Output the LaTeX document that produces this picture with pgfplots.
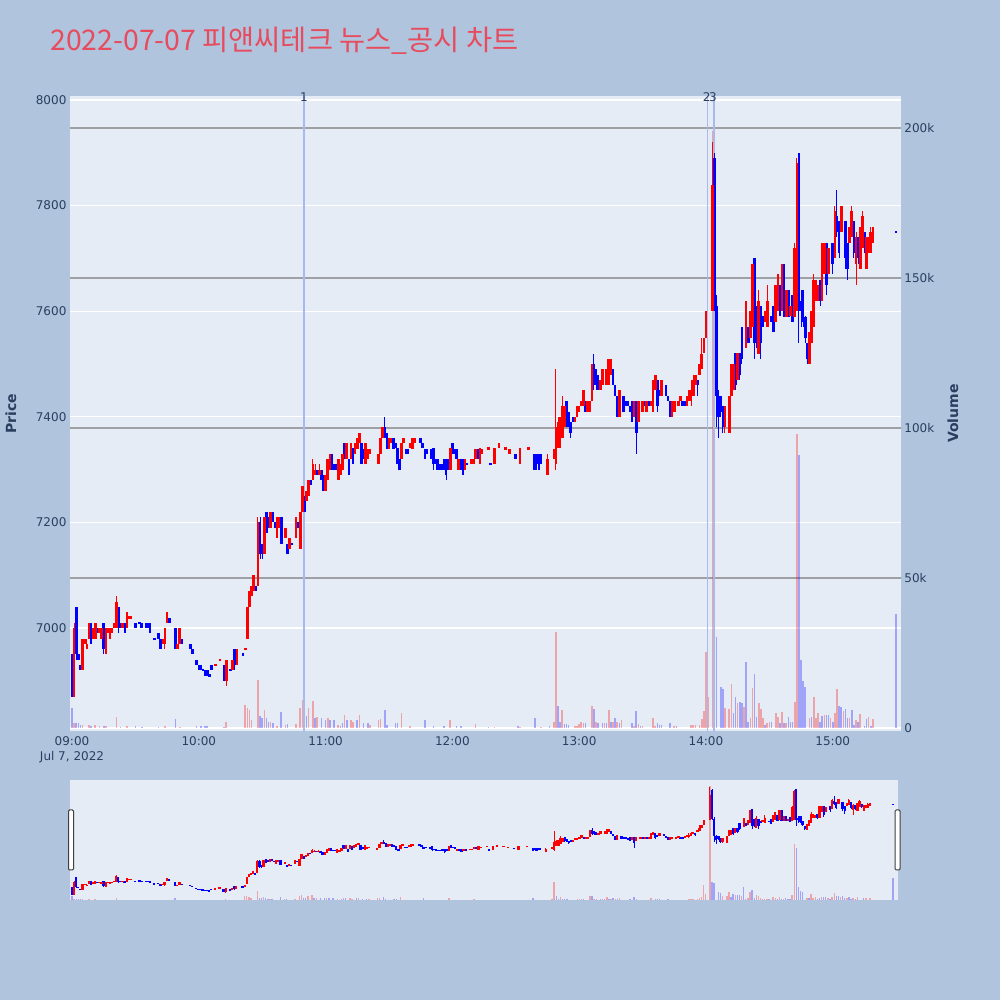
\documentclass[border=0pt]{standalone}
\usepackage{fontspec}
\setmainfont{DejaVu Sans}
\newfontfamily\cjk{Noto Sans CJK KR}
\usepackage{pgfplots}
\usepackage{pgfplotstable}
\pgfplotsset{compat=1.18}
\definecolor{pagebg}{HTML}{B0C4DE}
\definecolor{plotbg}{HTML}{E5ECF6}
\definecolor{tickc}{HTML}{2A3F5F}
\definecolor{titlec}{RGB}{231,76,94}
\definecolor{vgrid}{RGB}{158,160,164}
\definecolor{annc}{RGB}{168,186,236}

\pgfplotstableread{
t o h l c
1 6870 7010 6870 7000
5 6920 6980 6920 6980
6 6970 6980 6970 6980
7 6960 6980 6960 6970
8 6980 7010 6980 7010
10 6980 7000 6980 7000
11 6980 7010 6980 7010
13 6990 7000 6990 7000
14 6980 7000 6980 7000
16 6950 7000 6950 7000
17 6990 7000 6990 7000
18 6980 7000 6980 7000
19 6990 7000 6990 7000
20 7000 7010 7000 7010
21 7000 7060 7000 7050
24 7000 7010 7000 7010
26 7000 7030 7000 7030
27 7020 7020 7020 7020
28 7020 7020 7020 7020
43 6970 6980 6970 6980
44 6970 7000 6960 7000
45 7010 7030 7010 7030
50 6960 6970 6960 6970
51 6970 7000 6970 7000
68 6930 6930 6930 6930
70 6940 6940 6940 6940
73 6900 6940 6890 6940
76 6920 6940 6920 6940
78 6930 6960 6930 6960
82 6960 6960 6960 6960
83 6980 7040 6980 7040
84 7040 7070 7040 7070
85 7060 7080 7060 7080
86 7070 7100 7070 7100
88 7080 7210 7080 7200
91 7140 7210 7140 7210
94 7190 7220 7190 7220
97 7170 7210 7170 7210
98 7190 7210 7190 7210
101 7170 7190 7170 7190
103 7150 7170 7150 7170
106 7170 7210 7170 7210
108 7150 7220 7150 7220
109 7220 7270 7220 7270
111 7240 7260 7240 7260
112 7250 7280 7250 7280
114 7280 7320 7280 7310
115 7290 7310 7290 7300
117 7290 7310 7290 7300
120 7260 7290 7260 7290
121 7280 7320 7280 7320
122 7300 7330 7300 7330
126 7280 7320 7280 7320
127 7290 7310 7290 7310
128 7300 7330 7300 7330
130 7320 7350 7320 7350
132 7320 7350 7320 7350
134 7330 7350 7330 7350
135 7340 7360 7340 7360
136 7350 7370 7350 7370
139 7310 7350 7310 7350
140 7320 7340 7320 7340
141 7330 7340 7330 7340
145 7310 7330 7310 7330
146 7330 7360 7330 7360
147 7360 7380 7360 7380
150 7340 7360 7340 7360
151 7350 7360 7350 7360
156 7320 7350 7320 7350
157 7350 7360 7350 7360
160 7340 7350 7340 7350
161 7340 7360 7340 7360
162 7350 7360 7350 7360
179 7300 7340 7300 7340
183 7300 7320 7300 7320
186 7300 7320 7300 7320
189 7310 7320 7310 7320
190 7310 7320 7310 7320
191 7320 7340 7320 7340
193 7310 7340 7310 7340
194 7330 7340 7330 7340
197 7340 7340 7340 7340
200 7310 7340 7310 7340
202 7340 7350 7340 7350
205 7340 7340 7340 7340
207 7330 7340 7330 7340
212 7310 7340 7310 7340
216 7340 7340 7340 7340
225 7290 7330 7290 7320
228 7320 7340 7320 7340
229 7310 7490 7300 7380
230 7340 7400 7340 7390
231 7340 7400 7340 7400
232 7360 7440 7360 7420
233 7380 7420 7380 7420
238 7390 7400 7390 7400
239 7400 7420 7400 7420
240 7410 7420 7410 7420
241 7420 7430 7420 7430
242 7420 7450 7420 7450
244 7410 7430 7410 7430
245 7410 7430 7410 7430
246 7430 7500 7430 7500
250 7450 7470 7450 7470
251 7460 7490 7460 7490
253 7460 7490 7460 7490
254 7460 7510 7460 7510
255 7480 7510 7480 7510
259 7400 7450 7400 7450
266 7400 7430 7400 7430
268 7390 7430 7390 7430
270 7410 7430 7410 7430
272 7410 7430 7410 7430
274 7420 7430 7420 7430
275 7410 7470 7410 7470
276 7450 7480 7450 7480
279 7440 7470 7440 7470
284 7400 7430 7400 7430
285 7410 7430 7410 7430
287 7420 7430 7420 7430
288 7430 7440 7430 7440
291 7420 7440 7420 7440
292 7430 7450 7430 7450
293 7430 7470 7420 7450
294 7440 7480 7440 7470
295 7460 7480 7460 7480
297 7480 7500 7480 7500
298 7490 7550 7490 7520
299 7520 7550 7520 7550
300 7550 7600 7550 7600
303 7600 7920 7600 7840
309 7380 7420 7370 7420
311 7370 7440 7370 7440
312 7440 7500 7440 7500
313 7450 7500 7450 7500
315 7470 7520 7470 7520
319 7530 7620 7530 7620
321 7550 7600 7550 7600
322 7570 7690 7570 7690
325 7520 7640 7520 7620
328 7580 7600 7580 7600
329 7570 7650 7570 7620
333 7580 7650 7580 7650
334 7600 7670 7600 7670
336 7600 7690 7600 7690
338 7590 7640 7590 7640
340 7590 7610 7590 7610
342 7590 7730 7590 7720
343 7600 7890 7600 7880
349 7500 7560 7500 7560
350 7540 7600 7540 7600
351 7570 7670 7570 7660
352 7620 7660 7620 7660
353 7620 7650 7620 7650
355 7620 7730 7620 7730
356 7670 7730 7670 7730
358 7670 7720 7670 7720
361 7700 7800 7700 7790
364 7750 7800 7750 7800
368 7730 7760 7730 7760
369 7740 7800 7740 7790
371 7690 7750 7650 7740
373 7680 7760 7680 7760
374 7720 7790 7720 7780
376 7680 7740 7680 7740
377 7710 7740 7710 7740
378 7710 7760 7710 7750
379 7730 7760 7730 7760
}\candleup

\pgfplotstableread{
t o h l c
0 6950 6950 6870 6870
2 7040 7040 6940 6950
3 6950 6950 6940 6940
4 6930 6930 6920 6920
9 7010 7010 6970 6970
12 7000 7000 6990 6990
15 7010 7010 6950 6960
22 7040 7040 6990 7000
23 7010 7010 7000 7000
25 7010 7010 6990 6990
30 7010 7010 7000 7000
32 7010 7010 7010 7010
33 7010 7010 7000 7000
35 7010 7010 7000 7000
36 7010 7010 7000 7000
37 7010 7010 6990 6990
39 6980 6980 6980 6980
41 6990 6990 6980 6980
42 6980 6980 6960 6960
46 7020 7020 7010 7010
49 7000 7000 6960 6960
52 6980 6980 6970 6970
56 6970 6970 6960 6960
57 6960 6960 6950 6950
59 6940 6940 6930 6930
60 6930 6930 6920 6920
61 6930 6930 6920 6920
62 6920 6920 6920 6920
63 6920 6920 6910 6910
64 6920 6920 6910 6910
65 6910 6910 6910 6910
66 6930 6930 6920 6920
72 6930 6930 6900 6900
75 6920 6920 6920 6920
77 6960 6960 6920 6930
81 6950 6950 6950 6950
87 7080 7080 7070 7070
89 7200 7210 7130 7140
90 7160 7160 7130 7140
92 7220 7220 7180 7180
93 7210 7210 7190 7190
95 7220 7220 7200 7200
96 7200 7200 7190 7190
99 7210 7210 7160 7160
102 7160 7160 7140 7140
104 7160 7160 7160 7160
107 7200 7200 7190 7190
110 7250 7250 7220 7220
113 7280 7280 7270 7270
116 7300 7300 7290 7290
118 7300 7300 7280 7280
119 7290 7290 7260 7260
123 7330 7330 7300 7300
124 7310 7310 7300 7300
125 7310 7310 7300 7300
129 7350 7350 7320 7320
131 7320 7320 7290 7290
133 7340 7340 7310 7310
137 7350 7350 7310 7310
138 7340 7340 7320 7320
148 7380 7400 7360 7360
149 7370 7370 7340 7340
152 7360 7360 7340 7340
153 7350 7350 7340 7340
154 7340 7340 7310 7310
155 7320 7320 7300 7300
158 7340 7340 7330 7330
159 7340 7340 7330 7330
165 7360 7360 7350 7350
166 7350 7350 7340 7340
167 7340 7340 7320 7320
168 7340 7340 7330 7330
170 7340 7340 7320 7320
171 7340 7340 7300 7310
172 7320 7320 7310 7310
173 7320 7320 7300 7300
174 7310 7310 7300 7300
175 7310 7310 7300 7300
176 7320 7320 7300 7300
177 7320 7320 7280 7290
178 7320 7320 7300 7300
180 7350 7350 7330 7330
181 7340 7340 7330 7330
182 7340 7340 7320 7320
184 7320 7320 7300 7300
185 7320 7320 7290 7290
187 7310 7310 7310 7310
192 7340 7340 7320 7320
198 7310 7310 7310 7310
210 7330 7330 7320 7320
219 7330 7330 7300 7300
220 7330 7330 7300 7310
221 7330 7330 7300 7300
222 7330 7330 7310 7310
234 7430 7430 7380 7390
235 7410 7410 7380 7380
236 7390 7390 7360 7370
237 7400 7400 7390 7390
243 7430 7430 7410 7410
247 7500 7520 7450 7460
248 7490 7490 7450 7460
249 7480 7480 7450 7450
256 7490 7490 7460 7460
257 7460 7460 7440 7440
258 7440 7440 7400 7400
261 7440 7440 7410 7410
262 7430 7430 7420 7420
263 7430 7430 7420 7420
264 7420 7420 7410 7410
265 7430 7430 7390 7390
267 7430 7430 7330 7370
271 7430 7430 7420 7420
273 7430 7430 7420 7420
277 7470 7470 7410 7420
278 7450 7450 7440 7440
281 7460 7460 7440 7440
282 7440 7440 7430 7430
283 7430 7430 7400 7400
289 7430 7430 7420 7420
290 7430 7430 7420 7420
296 7470 7470 7440 7460
304 7890 7900 7600 7610
305 7610 7630 7380 7440
306 7440 7450 7360 7400
307 7440 7440 7400 7410
308 7420 7420 7370 7380
314 7520 7520 7450 7460
316 7520 7520 7470 7480
317 7570 7570 7500 7510
320 7570 7570 7540 7540
323 7700 7700 7510 7540
324 7610 7610 7530 7540
326 7610 7610 7510 7540
327 7590 7590 7570 7570
331 7590 7590 7580 7580
332 7610 7610 7560 7560
335 7650 7650 7590 7590
337 7690 7690 7590 7590
339 7640 7640 7590 7590
341 7630 7630 7580 7580
344 7900 7900 7540 7600
345 7620 7640 7570 7600
346 7640 7640 7570 7580
347 7590 7590 7540 7550
348 7540 7540 7500 7510
354 7660 7660 7610 7620
357 7730 7730 7630 7650
360 7730 7730 7670 7690
362 7780 7830 7740 7750
363 7770 7770 7700 7710
366 7770 7770 7680 7700
367 7730 7730 7660 7680
370 7770 7770 7700 7710
372 7740 7740 7690 7700
375 7750 7750 7710 7720
390 7750 7750 7750 7750
}\candledown

\pgfplotstableread{
t v
1 1500
5 1000
8 1000
11 1000
13 800
16 600
21 3500
26 500
44 500
51 400
73 2000
82 7700
83 6500
84 6000
85 2700
88 16000
91 6000
94 2000
97 700
101 1000
106 1300
108 6500
109 9300
112 6500
114 9000
116 3800
121 3200
126 1000
129 4300
132 2700
133 2100
136 4300
141 1000
145 2700
146 2900
156 4900
160 500
179 2700
191 1300
200 400
212 300
222 400
228 2100
229 32000
232 6000
238 700
239 700
240 1200
241 2100
242 1800
246 7300
248 2100
252 1600
254 6000
256 2100
258 2100
260 2700
266 700
268 1300
270 700
275 3200
276 700
285 700
293 1000
294 1000
295 1000
297 1000
298 2900
299 5500
300 25400
301 10400
303 199000
309 6500
311 6200
312 14500
315 8400
318 7000
321 3400
322 13200
325 8400
326 6200
327 3200
329 1800
330 2100
333 5100
334 3800
336 5300
338 1600
342 8800
343 98000
349 3200
351 10400
352 3200
353 5100
356 4400
359 3200
361 4900
362 13000
365 5700
368 3400
371 2700
373 4700
377 3800
379 2900
}\volup

\pgfplotstableread{
t v
0 6500
2 1500
3 1500
4 1000
9 800
15 500
23 300
30 500
33 300
41 400
49 2900
59 700
61 600
63 500
64 800
72 300
89 4000
90 3200
92 3200
93 2000
95 1500
99 5400
102 1300
110 4000
111 4000
115 3200
118 3200
120 2700
122 2700
124 2700
127 700
128 1600
130 2700
135 2700
138 1600
140 1600
148 6000
149 1000
153 1800
154 1600
167 2700
171 500
176 500
182 500
184 700
197 400
211 700
219 3400
226 700
230 7400
231 2100
233 1300
234 1300
235 1000
243 1800
247 6200
249 1800
251 1800
253 1600
255 2100
257 3200
259 1600
265 1600
267 5800
269 700
277 1800
278 1000
279 1000
283 1600
286 700
304 31000
305 30400
307 13800
308 13000
313 4900
314 10200
316 8800
317 8400
319 22000
320 2100
323 17900
324 3600
328 1000
331 2100
335 1600
337 1600
339 3800
340 2100
341 2100
344 91000
345 22700
346 15700
347 13800
350 3800
354 2100
355 4000
357 4400
358 4400
360 2100
363 7300
364 7100
366 6400
367 3400
369 6000
370 1000
372 2100
375 700
376 2900
378 700
390 38000
}\voldown

\pgfplotsset{
  mainpos/.style={at={(35pt,134.5pt)}, anchor=south west, scale only axis,
    width=415.5pt, height=317.5pt, xmin=-0.95, xmax=392.3},
  slpos/.style={at={(35pt,50pt)}, anchor=south west, scale only axis,
    width=414pt, height=60pt, xmin=-0.95, xmax=392.3},
  nomark/.style={only marks, mark=*, mark size=0pt, mark options={draw opacity=0, fill opacity=0}},
  wick/.style={nomark, error bars/.cd, y dir=both, y explicit,
    error mark=none, error bar style={#1, line width=0.5pt, opacity=1}},
  body/.style={nomark, error bars/.cd, y dir=both, y explicit,
    error mark=none, error bar style={#1, line width=1.3pt, opacity=1}},
  sbody/.style={nomark, error bars/.cd, y dir=both, y explicit,
    error mark=none, error bar style={#1, line width=1.15pt, opacity=1}},
  table/wickopts/.style={x=t, y expr={(\thisrow{h}+\thisrow{l})/2},
    y error expr={(\thisrow{h}-\thisrow{l})/2}},
  table/bodyopts/.style={x=t, y expr={(\thisrow{o}+\thisrow{c})/2},
    y error expr={max(abs(\thisrow{c}-\thisrow{o})/2,#1)}},
}

\begin{document}
\begin{tikzpicture}
\useasboundingbox (0,0) rectangle (500pt,500pt);
\fill[pagebg] (0,0) rectangle (500pt,500pt);

% title and axis titles
\node[anchor=base west, inner sep=0pt, text=titlec, font=\cjk\fontsize{14.2}{17}\selectfont] at (25pt,474.5pt) {2022-07-07 피앤씨테크 뉴스\_공시 차트};
\node[rotate=90, inner sep=0pt, text=tickc, font=\bfseries\fontsize{7}{8}\selectfont] at (5.5pt,293.25pt) {Price};
\node[rotate=90, inner sep=0pt, text=tickc, font=\bfseries\fontsize{7}{8}\selectfont] at (476.5pt,293.25pt) {Volume};

% price axis: background, white grid, tick labels
\begin{axis}[mainpos, ymin=6805, ymax=8007.6,
  axis background/.style={fill=plotbg},
  axis line style={draw=none}, tick style={draw=none},
  ytick={7000,7200,...,8000}, ymajorgrids, grid style={white, line width=0.55pt},
  xtick={0,60,...,360},
  xticklabels={{09:00\\Jul 7, 2022},10:00,11:00,12:00,13:00,14:00,15:00},
  xticklabel style={font=\fontsize{6}{7.5}\selectfont, text=tickc, align=center, anchor=north, inner sep=0pt, yshift=-2.8pt},
  yticklabel style={font=\fontsize{6}{7}\selectfont, text=tickc, anchor=east, inner sep=0pt, xshift=-1.6pt},
  /pgf/number format/1000 sep={}, /pgf/number format/assume math mode=true]
\addplot[draw=none] coordinates {(0,7000)};
\end{axis}

% volume axis
\begin{axis}[mainpos, ymin=-1000, ymax=210667, scaled y ticks=false,
  axis line style={draw=none}, tick style={draw=none},
  xtick=\empty,
  ytick={50000,100000,150000,200000}, yticklabels={50k,100k,150k,200k},
  ymajorgrids, grid style={vgrid, line width=0.75pt},
  extra y ticks={0}, extra y tick labels={0},
  extra y tick style={grid style={white, line width=1pt}},
  yticklabel pos=right,
  yticklabel style={font=\fontsize{6}{7}\selectfont, text=tickc, anchor=west, inner sep=0pt, xshift=1.5pt}]
\addplot[ycomb, draw=red, draw opacity=0.3, line width=0.8pt] table[x=t, y=v] {\volup};
\addplot[ycomb, draw=blue, draw opacity=0.3, line width=0.8pt] table[x=t, y=v] {\voldown};
\end{axis}

% candles and annotations
\begin{axis}[mainpos, ymin=6805, ymax=8007.6, hide axis, clip=false]
\addplot[annc, line width=0.55pt] coordinates {(109.8,6805) (109.8,8007.6)};
\addplot[annc, line width=0.55pt] coordinates {(300.9,6805) (300.9,8007.6)};
\addplot[annc, line width=0.55pt] coordinates {(303.8,6805) (303.8,8007.6)};
\node[text=tickc, font=\fontsize{6}{7}\selectfont, inner sep=0pt] at (axis cs:109.8,8007.6) [yshift=-0.7pt] {1};
\node[text=tickc, font=\fontsize{6}{7}\selectfont, inner sep=0pt] at (axis cs:300.4,8007.6) [yshift=-0.7pt] {2};
\node[text=tickc, font=\fontsize{6}{7}\selectfont, inner sep=0pt] at (axis cs:303.3,8007.6) [yshift=-0.7pt] {3};
\addplot[wick=blue] table[wickopts] {\candledown};
\addplot[body=blue] table[bodyopts=2] {\candledown};
\addplot[wick=red] table[wickopts] {\candleup};
\addplot[body=red] table[bodyopts=2] {\candleup};
\end{axis}

% range slider
\begin{axis}[slpos, ymin=0, ymax=210000,
  axis background/.style={fill=plotbg},
  axis line style={draw=none}, tick style={draw=none}, xtick=\empty, ytick=\empty]
\addplot[ycomb, draw=red, draw opacity=0.3, line width=0.7pt] table[x=t, y=v] {\volup};
\addplot[ycomb, draw=blue, draw opacity=0.3, line width=0.7pt] table[x=t, y=v] {\voldown};
\end{axis}
\begin{axis}[slpos, ymin=6821, ymax=7985, hide axis]
\addplot[wick=blue] table[wickopts] {\candledown};
\addplot[sbody=blue] table[bodyopts=4] {\candledown};
\addplot[wick=red] table[wickopts] {\candleup};
\addplot[sbody=red] table[bodyopts=4] {\candleup};
\end{axis}
\draw[fill=white, draw=black!75, line width=0.5pt, rounded corners=0.6pt] (34.25pt,65pt) rectangle (36.75pt,95pt);
\draw[fill=white, draw=black!75, line width=0.5pt, rounded corners=0.6pt] (447.5pt,65pt) rectangle (450pt,95pt);
\end{tikzpicture}
\end{document}
